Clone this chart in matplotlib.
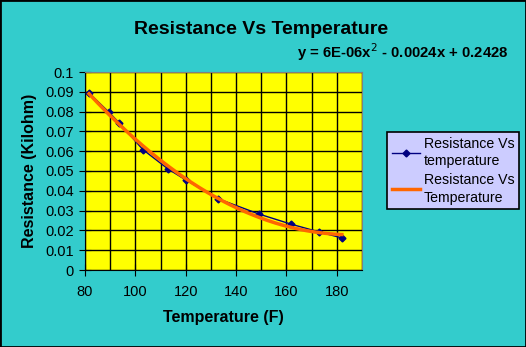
import matplotlib.pyplot as plt
import numpy as np
from matplotlib.ticker import MultipleLocator

plt.rcParams["font.family"] = ["Liberation Sans", "DejaVu Sans"]

# ------------------------------------------------------------
# Data
# ------------------------------------------------------------
temperature = [81.6, 89.5, 93.5, 103, 113, 120, 133, 149, 161.7, 173, 182]
resistance = [0.0894, 0.0797, 0.0744, 0.0608, 0.0510, 0.0455, 0.0359,
              0.0283, 0.0232, 0.0192, 0.0162]

x_ticks = [80, 100, 120, 140, 160, 180]
y_ticks = [0, 0.01, 0.02, 0.03, 0.04, 0.05, 0.06, 0.07, 0.08, 0.09, 0.1]
y_tick_labels = ["0", "0.01", "0.02", "0.03", "0.04", "0.05", "0.06",
                 "0.07", "0.08", "0.09", "0.1"]

title = "Resistance Vs Temperature"
equation = "y = 6E-06x$^2$ - 0.0024x + 0.2428"
series_label = "Resistance Vs\ntemperature"
trend_label = "Resistance Vs\nTemperature"

BG = "#33CCCC"

fig = plt.figure(figsize=(5.26, 3.47), dpi=100, facecolor=BG)
ax = fig.add_axes([85 / 526, 1 - 270 / 347, 277 / 526, 198 / 347])
ax.set_facecolor("#FFFF00")

x = np.array(temperature)
y = np.array(resistance)

# quadratic trendline through the data
coef = np.polyfit(x, y, 2)
xs = np.linspace(x.min(), x.max(), 200)

ax.plot(x, y, color="#000080", linewidth=1, marker="D", markersize=3.5,
        label=series_label, zorder=3)
ax.plot(xs, np.polyval(coef, xs), color="#FF6600", linewidth=2.5,
        label=trend_label, zorder=4)

ax.set_xlim(80, 190)
ax.set_ylim(0, 0.1)
ax.set_xticks(x_ticks)
ax.xaxis.set_minor_locator(MultipleLocator(10))
ax.set_yticks(y_ticks)
ax.set_yticklabels(y_tick_labels)

ax.grid(True, which="both", color="black", linewidth=1)
ax.tick_params(which="minor", length=0)
ax.tick_params(which="major", length=8, direction="inout", labelsize=10.5,
               colors="black")
ax.tick_params(axis="x", pad=7)
ax.tick_params(axis="y", pad=4)

for side in ["top", "right"]:
    ax.spines[side].set_color("#808080")
for side in ["left", "bottom"]:
    ax.spines[side].set_color("black")

ax.set_xlabel("Temperature (F)", fontsize=11.5, fontweight="bold", labelpad=8)
ax.set_ylabel("Resistance (Kilohm)", fontsize=11.5, fontweight="bold",
              labelpad=6)

fig.text(0.497, 1 - 29 / 347, title, fontsize=14, fontweight="bold",
         ha="center", va="center")
fig.text(508 / 526, 1 - 52 / 347, equation, fontsize=10.7, fontweight="bold",
         ha="right", va="center")

leg = fig.legend(loc="upper left", bbox_to_anchor=(387 / 526, 1 - 132 / 347),
                 fontsize=10.2, frameon=True, fancybox=False,
                 facecolor="#CCCCFF", edgecolor="black", framealpha=1,
                 handlelength=1.95, borderpad=0.35, labelspacing=0.35,
                 handletextpad=0.3, borderaxespad=0)
leg.get_frame().set_linewidth(1.2)
for t in leg.get_texts():
    t.set_linespacing(1.3)

# outer black border
fig.patches.append(plt.Rectangle((0, 0), 1, 1, transform=fig.transFigure,
                                 fill=False, edgecolor="black", linewidth=2))

fig.savefig("out.png", dpi=100, facecolor=BG)
